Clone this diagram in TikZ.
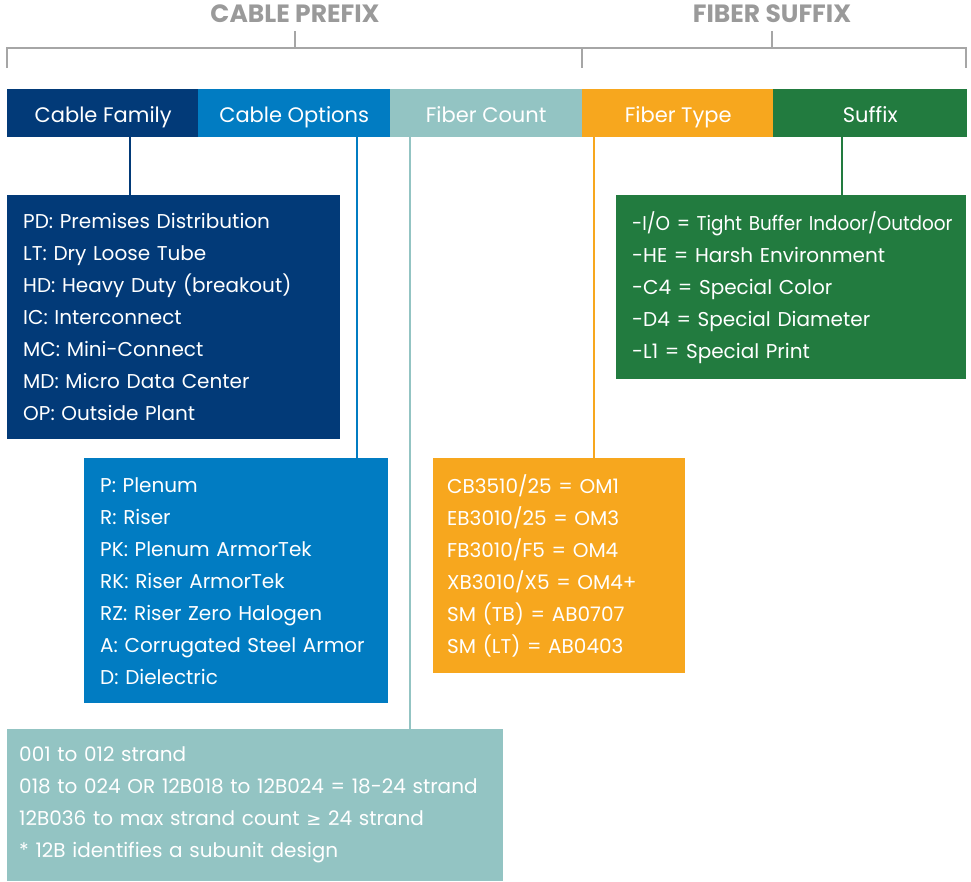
\documentclass[tikz,border=0pt]{standalone}
\usepackage{fontspec}
\setmainfont{Poppins}
\newfontfamily\condfont{Poppins}[FakeStretch=0.92]
\newfontfamily\symfont{DejaVu Sans}
\usepackage{tikz}

\definecolor{famblue}{HTML}{023A78}
\definecolor{optblue}{HTML}{017CC2}
\definecolor{cntteal}{HTML}{93C4C3}
\definecolor{typorange}{HTML}{F7A71E}
\definecolor{sufgreen}{HTML}{227B3F}
\definecolor{brkgray}{HTML}{A6A6A6}
\definecolor{titlegray}{HTML}{9A9A9A}

\tikzset{
  head/.style={minimum width=192pt, minimum height=48pt, inner sep=0pt,
    text height=19pt, text depth=1pt,
    text=white, font=\fontsize{21}{24}\selectfont, anchor=north west},
  list/.style={anchor=north west, inner xsep=16pt, inner ysep=0pt,
    text=white, align=left, font=\fontsize{20}{32}\selectfont},
  title/.style={text=titlegray, font=\bfseries\fontsize{25}{27}\selectfont},
  tap/.style={line width=2.5pt}
}

\begin{document}
\begin{tikzpicture}[x=1pt,y=-1pt]
\useasboundingbox (0,0) rectangle (971,881);

% titles and brackets
\draw (295,14) node[title] (prefix) {CABLE PREFIX} ;
\draw (772,14) node[title] (suffix) {FIBER SUFFIX} ;
\draw[brkgray, line width=2pt] (7,68) -- (7,48) -- (966,48) -- (966,68)
   (582,48) -- (582,68) ;
\draw[brkgray, line width=2pt] (prefix.south |- 0,31) -- (prefix.south |- 0,48)
   (suffix.south |- 0,31) -- (suffix.south |- 0,48) ;

% header bar
\draw (7,89) node[head, fill=famblue] (famhead) {Cable Family} ;
\draw (198,89) node[head, fill=optblue] (opthead) {Cable Options} ;
\draw (390,89) node[head, fill=cntteal] (cnthead) {Fiber Count} ;
\draw (582,89) node[head, fill=typorange] (typhead) {Fiber Type} ;
\draw (773,89) node[head, fill=sufgreen, minimum width=194pt] (sufhead) {Suffix} ;

% code lists
\draw (7,195) node[list, fill=famblue, minimum width=333pt, minimum height=244pt, text width=301pt] (famlist)
  {PD: Premises Distribution\\ LT: Dry Loose Tube\\ HD: Heavy Duty (breakout)\\ IC: Interconnect\\
   MC: Mini-Connect\\ MD: Micro Data Center\\ OP: Outside Plant} ;

\draw (84,458) node[list, fill=optblue, minimum width=304pt, minimum height=245pt, text width=272pt] (optlist)
  {P: Plenum\\ R: Riser\\ PK: Plenum ArmorTek\\ RK: Riser ArmorTek\\ RZ: Riser Zero Halogen\\
   A: Corrugated Steel Armor\\ D: Dielectric} ;

\draw (7,729) node[list, fill=cntteal, inner xsep=12pt, minimum width=496pt, minimum height=152pt, text width=472pt] (cntlist)
  {001 to 012 strand\\ 018 to 024 OR 12B018 to 12B024 = 18-24 strand\\
   12B036 to max strand count {\symfont\fontsize{18}{32}\selectfont≥} 24 strand\\ {}* 12B identifies a subunit design} ;

\draw (433,458) node[list, fill=typorange, inner xsep=14pt, minimum width=252pt, minimum height=215pt, text width=224pt] (typlist)
  {CB3510/25 = OM1\\ EB3010/25 = OM3\\ FB3010/F5 = OM4\\ XB3010/X5 = OM4+\\ SM (TB) = AB0707\\ SM (LT) = AB0403} ;

\draw (616,195) node[list, fill=sufgreen, minimum width=350pt, minimum height=184pt, text width=318pt] (suflist)
  {\mbox{\condfont -I/O = Tight Buffer Indoor/Outdoor}\\ -HE = Harsh Environment\\ -C4 = Special Color\\
   -D4 = Special Diameter\\ -L1 = Special Print} ;

% connectors
\coordinate (famtap) at (130,0) ;
\coordinate (opttap) at (357,0) ;
\coordinate (cnttap) at (410,0) ;
\coordinate (typtap) at (594,0) ;
\coordinate (suftap) at (842,0) ;
\draw[tap, famblue] (famhead.south -| famtap) -- (famlist.north -| famtap) ;
\draw[tap, optblue] (opthead.south -| opttap) -- (optlist.north -| opttap) ;
\draw[tap, cntteal] (cnthead.south -| cnttap) -- (cntlist.north -| cnttap) ;
\draw[tap, typorange] (typhead.south -| typtap) -- (typlist.north -| typtap) ;
\draw[tap, sufgreen] (sufhead.south -| suftap) -- (suflist.north -| suftap) ;

\end{tikzpicture}
\end{document}
